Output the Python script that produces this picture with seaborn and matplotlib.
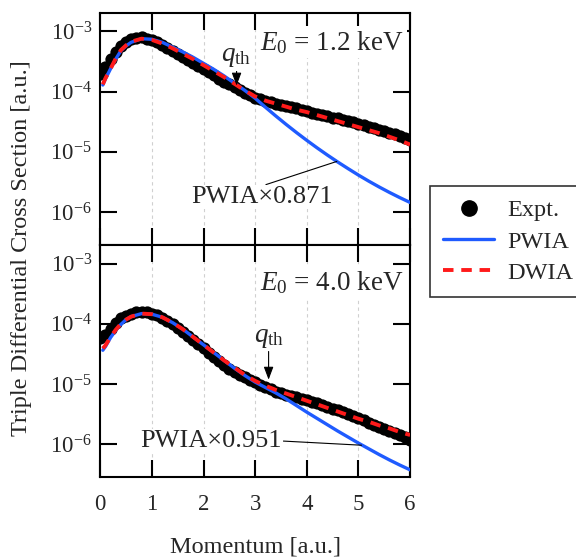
import numpy as np
import matplotlib
matplotlib.use("Agg")
import matplotlib.pyplot as plt
import matplotlib.ticker as mticker
from matplotlib.lines import Line2D
import seaborn as sns

# ---- data (log10 of cross section) ----
expt_x = np.round(np.arange(0, 6.01, 0.1), 2)

top_expt_log = [-3.70, -3.59, -3.45, -3.34, -3.24, -3.18, -3.13, -3.11, -3.10, -3.12,
                -3.14, -3.18, -3.23, -3.27, -3.32, -3.37, -3.42, -3.48, -3.53, -3.58,
                -3.63, -3.68, -3.73, -3.79, -3.84, -3.88, -3.92, -3.97, -4.02, -4.06,
                -4.10, -4.13, -4.16, -4.18, -4.20, -4.22, -4.24, -4.26, -4.28, -4.30,
                -4.32, -4.35, -4.37, -4.39, -4.41, -4.43, -4.44, -4.47, -4.49, -4.51,
                -4.53, -4.56, -4.59, -4.61, -4.63, -4.66, -4.69, -4.71, -4.74, -4.77,
                -4.80]
bot_expt_log = [-4.24, -4.19, -4.08, -3.98, -3.91, -3.87, -3.83, -3.81, -3.80, -3.81,
                -3.83, -3.86, -3.90, -3.95, -4.01, -4.07, -4.13, -4.20, -4.27, -4.34,
                -4.41, -4.48, -4.55, -4.62, -4.69, -4.75, -4.81, -4.85, -4.89, -4.93,
                -4.97, -5.01, -5.05, -5.09, -5.13, -5.15, -5.18, -5.20, -5.22, -5.25,
                -5.27, -5.30, -5.32, -5.35, -5.38, -5.41, -5.44, -5.47, -5.50, -5.53,
                -5.57, -5.60, -5.65, -5.69, -5.72, -5.75, -5.78, -5.81, -5.85, -5.89,
                -5.93]

theory_x = [0.05, 0.1, 0.2, 0.3, 0.4, 0.5, 0.6, 0.8, 1.0, 1.2, 1.4, 1.6, 1.8, 2.0,
            2.2, 2.4, 2.6, 2.8, 3.0, 3.2, 3.4, 3.6, 3.8, 4.0, 4.2, 4.4, 4.6, 4.8,
            5.0, 5.2, 5.4, 5.6, 5.8, 6.0]

top_pwia_log = [-3.89, -3.79, -3.62, -3.46, -3.32, -3.24, -3.18, -3.12, -3.13, -3.18,
                -3.26, -3.34, -3.43, -3.53, -3.63, -3.74, -3.86, -3.98, -4.11, -4.26,
                -4.405, -4.545, -4.68, -4.81, -4.935, -5.055, -5.17, -5.28, -5.387, -5.488,
                -5.584, -5.675, -5.761, -5.842]
top_dwia_log = [-3.88, -3.78, -3.62, -3.45, -3.31, -3.23, -3.17, -3.12, -3.14, -3.20,
                -3.28, -3.37, -3.46, -3.56, -3.66, -3.76, -3.87, -3.98, -4.08, -4.15,
                -4.20, -4.25, -4.30, -4.34, -4.39, -4.44, -4.49, -4.54, -4.59, -4.64,
                -4.69, -4.75, -4.81, -4.88]
bot_pwia_log = [-4.44, -4.38, -4.23, -4.11, -4.01, -3.93, -3.88, -3.83, -3.84, -3.89,
                -3.98, -4.09, -4.22, -4.35, -4.48, -4.61, -4.74, -4.86, -4.97, -5.06,
                -5.15, -5.25, -5.36, -5.47, -5.575, -5.68, -5.785, -5.885, -5.985, -6.08,
                -6.175, -6.265, -6.35, -6.43]
bot_dwia_log = [-4.41, -4.36, -4.22, -4.10, -4.00, -3.93, -3.88, -3.83, -3.84, -3.89,
                -3.98, -4.09, -4.22, -4.35, -4.48, -4.61, -4.73, -4.85, -4.95, -5.03,
                -5.10, -5.16, -5.22, -5.28, -5.34, -5.40, -5.46, -5.52, -5.58, -5.63,
                -5.69, -5.74, -5.80, -5.85]

panels = [
    dict(expt=top_expt_log, pwia=top_pwia_log, dwia=top_dwia_log,
         energy="$E_0$ = 1.2 keV", e_y=-3.18,
         qth=(2.64, -3.42, -3.90), scale="PWIA\u00d70.871",
         sc_text=(3.13, -5.75), sc_tip=(4.58, -5.16), relpos=(0.5, 1.0)),
    dict(expt=bot_expt_log, pwia=bot_pwia_log, dwia=bot_dwia_log,
         energy="$E_0$ = 4.0 keV", e_y=-3.32,
         qth=(3.26, -4.23, -4.93), scale="PWIA\u00d70.951",
         sc_text=(2.15, -5.95), sc_tip=(5.06, -6.02), relpos=(1.0, 0.5)),
]

blue = "#1f5bff"
red = "#ff1a1a"
dash = [2.7, 2.0]

sns.set_theme(style="ticks")
plt.rcParams["font.family"] = ["Liberation Serif", "DejaVu Serif"]
plt.rcParams["mathtext.fontset"] = "custom"
plt.rcParams["mathtext.rm"] = "Liberation Serif"
plt.rcParams["mathtext.it"] = "Liberation Serif:italic"
plt.rcParams["axes.linewidth"] = 1.5

fig = plt.figure(figsize=(5.76, 5.57), dpi=100)
ax_top = fig.add_axes([0.174, 0.560, 0.538, 0.417])
ax_bot = fig.add_axes([0.174, 0.1435, 0.538, 0.4165], sharex=ax_top)

for ax, p in zip([ax_top, ax_bot], panels):
    for g in [1, 2, 3, 4, 5]:
        ax.axvline(g, color="#d0d0d0", lw=0.8, ls=(0, (3, 3)), zorder=0)

    sns.scatterplot(x=expt_x, y=10 ** np.array(p["expt"]), ax=ax, color="black",
                    s=78, edgecolor="black", linewidth=0, zorder=2, legend=False)
    sns.lineplot(x=theory_x, y=10 ** np.array(p["pwia"]), ax=ax, color=blue,
                 linewidth=2.4, zorder=3, legend=False)
    sns.lineplot(x=theory_x, y=10 ** np.array(p["dwia"]), ax=ax, color=red,
                 linewidth=2.8, zorder=4, legend=False)
    ax.lines[-1].set_dashes(dash)

    ax.set_yscale("log")
    ax.set_xlim(0, 6)
    ax.set_ylim(10 ** -6.55, 10 ** -2.69)
    ax.yaxis.set_major_locator(mticker.FixedLocator([1e-6, 1e-5, 1e-4, 1e-3]))
    ax.yaxis.set_minor_locator(mticker.NullLocator())
    ax.xaxis.set_major_locator(mticker.MultipleLocator(1))
    ax.tick_params(axis="both", which="major", direction="in", length=12, width=1.5,
                   top=True, right=True, labelsize=16.5, color="black")
    ax.tick_params(axis="y", pad=6)
    ax.tick_params(axis="x", pad=12)
    for s in ax.spines.values():
        s.set_color("black")
        s.set_linewidth(1.5)
    ax.set_ylabel("")
    ax.set_xlabel("")

    ax.text(5.88, 10 ** p["e_y"], p["energy"], ha="right", va="center", fontsize=19.5,
            zorder=6, bbox=dict(facecolor="white", edgecolor="none", pad=2))

    qx, qy, qtip = p["qth"]
    ax.annotate("$q_{\\rm th}$", xy=(qx, 10 ** qtip), xytext=(qx, 10 ** qy),
                ha="center", va="center", fontsize=19.5, zorder=6,
                bbox=dict(facecolor="white", edgecolor="none", pad=1),
                arrowprops=dict(arrowstyle="-|>,head_length=0.4,head_width=0.15",
                                color="black", lw=0.8, shrinkA=0, shrinkB=0))

    tx, ty = p["sc_text"]
    px_, py_ = p["sc_tip"]
    ax.annotate(p["scale"], xy=(px_, 10 ** py_), xytext=(tx, 10 ** ty),
                ha="center", va="center", fontsize=19, zorder=6,
                bbox=dict(facecolor="white", edgecolor="none", pad=1),
                arrowprops=dict(arrowstyle="-", color="black", lw=0.8,
                                shrinkA=0, shrinkB=0, relpos=p["relpos"]))

plt.setp(ax_top.get_xticklabels(), visible=False)
ax_bot.set_xlabel("Momentum [a.u.]", fontsize=17.5, labelpad=16)
fig.text(0.038, 0.555, "Triple Differential Cross Section [a.u.]", rotation=90,
         ha="center", va="center", fontsize=17.5)

handles = [
    Line2D([], [], ls="none", marker="o", color="black", markersize=11),
    Line2D([], [], color=blue, lw=2.4),
    Line2D([], [], color=red, lw=2.8, dashes=dash),
]
leg = fig.legend(handles, ["Expt.", "PWIA", "DWIA"], loc="upper left",
                 bbox_to_anchor=(430 / 576, 1 - 186 / 557), fontsize=17.5,
                 frameon=True, fancybox=False, handlelength=2.1, handletextpad=0.55,
                 borderpad=0.55, labelspacing=0.38, borderaxespad=0)
leg.get_frame().set_edgecolor("black")
leg.get_frame().set_linewidth(1.2)

fig.savefig("out.png", dpi=100)
